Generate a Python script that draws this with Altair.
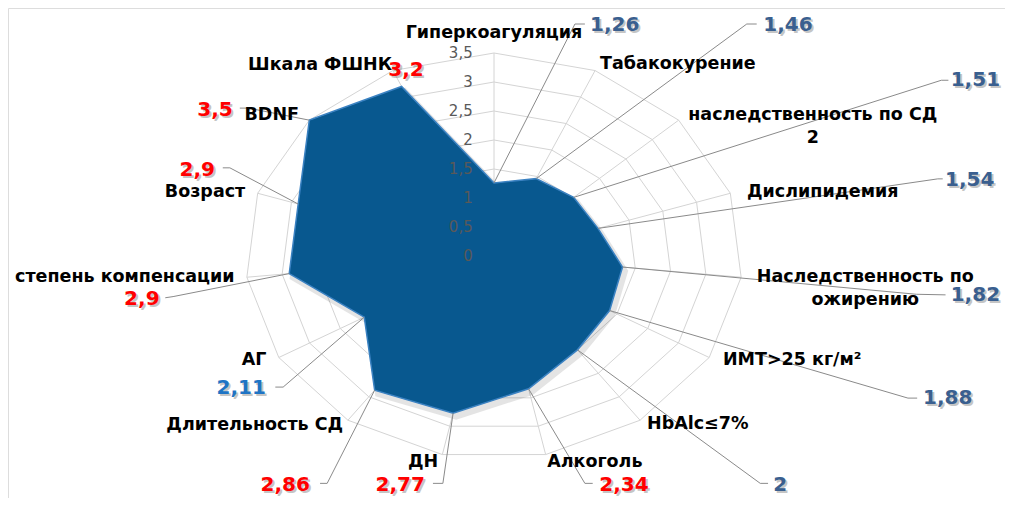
import math
import altair as alt
import pandas as pd

# ---------------- data ----------------
categories = [
    "Гиперкоагуляция", "Табакокурение", "наследственность по СД\n2", "Дислипидемия",
    "Наследственность по\nожирению", "ИМТ>25 кг/м²", "HbAlc≤7%", "Алкоголь", "ДН",
    "Длительность СД", "АГ", "степень компенсации", "Возраст", "BDNF", "Шкала ФШНК",
]
values = [1.26, 1.46, 1.51, 1.54, 1.82, 1.88, 2, 2.34, 2.77, 2.86, 2.11, 2.9, 2.9, 3.5, 3.2]
value_text = ["1,26", "1,46", "1,51", "1,54", "1,82", "1,88", "2", "2,34", "2,77",
              "2,86", "2,11", "2,9", "2,9", "3,5", "3,2"]
ticks = [0, 0.5, 1, 1.5, 2, 2.5, 3, 3.5]
tick_text = ["0", "0,5", "1", "1,5", "2", "2,5", "3", "3,5"]

# ---------------- layout / style (not data) ----------------
value_group = ["b", "b", "b", "b", "b", "b", "b", "r", "r", "r", "c", "r", "r", "r", "r"]
group_colors = {"b": "#3a5f8f", "r": "#ff0000", "c": "#1f74c4"}
cat_pos = [(0.0, 3.85), (2.59, 3.31), (4.49, 2.43), (4.63, 1.10), (5.23, -0.36),
           (4.20, -1.79), (2.87, -2.90), (1.42, -3.55), (-1.0, -3.55), (-3.37, -2.91),
           (-3.38, -1.79), (-5.20, -0.36), (-4.07, 1.10), (-3.13, 2.43), (-2.45, 3.29)]
BOT = -3.95
val_pos = [(1.70, 3.98), (4.14, 3.98), (6.78, 3.03), (6.70, 1.31), (6.78, -0.67),
           (6.39, -2.45), (4.03, BOT), (1.83, BOT), (-1.32, BOT), (-2.94, BOT),
           (-3.56, -2.28), (-4.96, -0.74), (-4.18, 1.48), (-3.93, 2.52), (-1.24, 3.21)]
LB = -3.92
leader_pts = [
    [(1.14, 4.0), (1.28, 4.0)], [(3.56, 4.0), (3.70, 4.0)], [(6.30, 3.03), (6.40, 3.03)],
    [(6.25, 1.33), (6.32, 1.33)], [(5.95, -0.66), (6.36, -0.67)], [(5.83, -2.45), (5.96, -2.45)],
    [(3.75, LB), (3.86, LB)], [(1.28, LB), (1.39, LB)], [(-0.72, LB), (-0.86, LB)],
    [(-2.35, LB), (-2.45, LB)], [(-2.97, -2.26), (-3.08, -2.26)], [(-4.52, -0.70), (-4.63, -0.72)],
    [(-3.72, 1.52), (-3.82, 1.52)], [(-3.46, 2.55), (-3.58, 2.55)], None,
]
tick_label_x = -0.30

n = len(categories)
ang = [2 * math.pi * i / n for i in range(n)]

poly = pd.DataFrame({
    "k": list(range(n)),
    "x": [v * math.sin(a) for v, a in zip(values, ang)],
    "y": [v * math.cos(a) for v, a in zip(values, ang)],
})

grid_rows = []
for lv in ticks[1:]:
    for i, a in enumerate(ang):
        grid_rows.append({"g": lv, "k": i, "x": lv * math.sin(a), "y": lv * math.cos(a)})
grid = pd.DataFrame(grid_rows)

rmax = ticks[-1]
spokes = pd.DataFrame({
    "x": [0.0] * n, "y": [0.0] * n,
    "x2": [rmax * math.sin(a) for a in ang], "y2": [rmax * math.cos(a) for a in ang],
})

lead_rows = []
for i, pts in enumerate(leader_pts):
    if pts is None:
        continue
    lead_rows.append({"g": i, "k": 0, "x": poly.x[i], "y": poly.y[i]})
    for j, (px, py) in enumerate(pts):
        lead_rows.append({"g": i, "k": j + 1, "x": px, "y": py})
leads = pd.DataFrame(lead_rows)

cats = pd.DataFrame({"t": categories, "x": [p[0] for p in cat_pos], "y": [p[1] for p in cat_pos]})
vals = pd.DataFrame({"t": value_text, "grp": value_group,
                     "x": [p[0] for p in val_pos], "y": [p[1] for p in val_pos]})
tk = pd.DataFrame({"t": tick_text, "y": ticks, "x": [tick_label_x] * len(ticks)})

W, H = 997, 490
CX, CY, SX, SY = 486, 248, 71.0, 58.0
xs = alt.Scale(domain=[-CX / SX, (W - CX) / SX], nice=False, zero=False)
ys = alt.Scale(domain=[-(H - CY) / SY, CY / SY], nice=False, zero=False)
X = alt.X("x:Q", scale=xs, axis=None)
Y = alt.Y("y:Q", scale=ys, axis=None)

grid_l = alt.Chart(grid).mark_line(interpolate="linear-closed", color="#d4d4d4", strokeWidth=1).encode(
    x=X, y=Y, detail="g:N", order="k:Q")
spoke_l = alt.Chart(spokes).mark_rule(color="#d4d4d4", strokeWidth=1).encode(x=X, y=Y, x2="x2:Q", y2="y2:Q")
shadow_l = alt.Chart(poly).mark_line(interpolate="linear-closed", fill="#000000", stroke="#000000",
                                     strokeWidth=5, opacity=0.1, xOffset=3, yOffset=4).encode(
    x=X, y=Y, order="k:Q")
poly_l = alt.Chart(poly).mark_line(interpolate="linear-closed", fill="#08588f", stroke="#3b82c2",
                                   strokeWidth=1.5).encode(x=X, y=Y, order="k:Q")
lead_l = alt.Chart(leads).mark_line(color="#8a8a8a", strokeWidth=1).encode(
    x=X, y=Y, detail="g:N", order="k:Q")
tick_l = alt.Chart(tk).mark_text(align="right", baseline="middle", font="DejaVu Sans", fontSize=15,
                                 color="#595959").encode(x=X, y=Y, text="t:N")
cat_l = alt.Chart(cats).mark_text(align="center", baseline="middle", font="DejaVu Sans", fontSize=17.5,
                                  fontWeight="bold", color="#000000", lineBreak="\n", lineHeight=23).encode(
    x=X, y=Y, text="t:N")
val_shadow = alt.Chart(vals).mark_text(align="center", baseline="middle", font="DejaVu Sans", fontSize=20,
                                       fontWeight="bold", color="#7f7f7f", opacity=0.45, dx=2, dy=2).encode(
    x=X, y=Y, text="t:N")
val_l = alt.Chart(vals).mark_text(align="center", baseline="middle", font="DejaVu Sans", fontSize=20,
                                  fontWeight="bold").encode(
    x=X, y=Y, text="t:N",
    color=alt.Color("grp:N", scale=alt.Scale(domain=list(group_colors.keys()),
                                             range=list(group_colors.values())), legend=None))

chart = alt.layer(grid_l, spoke_l, shadow_l, poly_l, lead_l, tick_l, cat_l, val_shadow, val_l).properties(
    width=W, height=H, autosize=alt.AutoSizeParams(type="none"), padding=0
).configure_view(stroke=None).configure(background="#ffffff")

chart.save("out.html", embed_options={"renderer": "svg", "actions": False})
